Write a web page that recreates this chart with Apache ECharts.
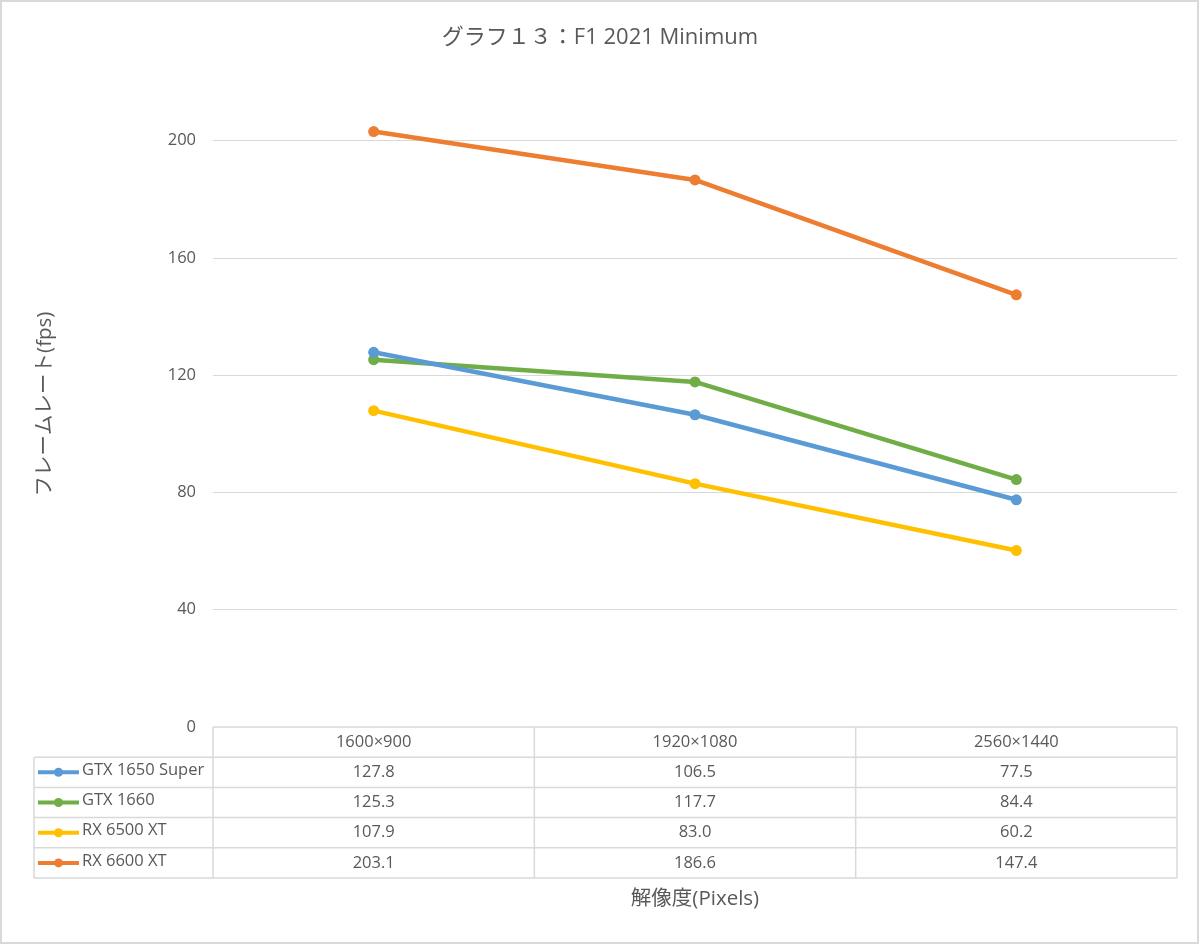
<!DOCTYPE html>
<html>
<head>
<meta charset="utf-8">
<script src="https://cdn.jsdelivr.net/npm/echarts@6/dist/echarts.min.js"></script>
<style>
  html, body { margin: 0; padding: 0; background: #fff; }
  #main { width: 1200px; height: 945px; }
</style>
</head>
<body>
<div id="main"></div>
<script>
const categories = ['1600×900', '1920×1080', '2560×1440']
const seriesNames = ['GTX 1650 Super', 'GTX 1660', 'RX 6500 XT', 'RX 6600 XT']
const gtx1650Super = [127.8, 106.5, 77.5]
const gtx1660 = [125.3, 117.7, 84.4]
const rx6500xt = [107.9, 83.0, 60.2]
const rx6600xt = [203.1, 186.6, 147.4]
const yTicks = [0, 40, 80, 120, 160, 200]

const colors = ['#5B9BD5', '#70AD47', '#FFC000', '#ED7D31']
const seriesData = [gtx1650Super, gtx1660, rx6500xt, rx6600xt]
const font = '"Open Sans", "Noto Sans CJK JP", sans-serif'
const textColor = '#595959'
const lineColor = '#d9d9d9'

// layout of plot + data table
const gridLeft = 213, gridRight = 1177, gridTop = 82, gridBottom = 727
const rowH = 30.2
const tableLeft = 34

const chart = echarts.init(document.getElementById('main'))

const option = {
    backgroundColor: '#fff',
    animation: false,
    title: {
        text: 'グラフ１３：F1 2021 Minimum',
        left: 'center',
        top: 22,
        textStyle: { fontFamily: font, fontSize: 22, fontWeight: 'normal', color: textColor }
    },
    grid: { left: gridLeft, right: 1200 - gridRight, top: gridTop, bottom: 945 - gridBottom },
    xAxis: {
        type: 'category',
        data: categories,
        boundaryGap: true,
        axisLine: { show: false },
        axisTick: { show: false },
        axisLabel: { show: false }
    },
    yAxis: {
        type: 'value',
        min: 0,
        max: 220,
        interval: 40,
        axisLine: { show: false },
        axisTick: { show: false },
        axisLabel: {
            fontFamily: font, fontSize: 16.5, color: textColor, margin: 17,
            formatter: v => yTicks.includes(v) ? String(v) : ''
        },
        splitLine: { show: true, showMinLine: false, showMaxLine: false, lineStyle: { color: lineColor, width: 1 } }
    },
    series: seriesNames.map((name, i) => ({
        name: name,
        type: 'line',
        data: seriesData[i],
        symbol: 'circle',
        symbolSize: 11,
        lineStyle: { color: colors[i], width: 4.5 },
        itemStyle: { color: colors[i] },
        z: 2 + (i === 0 ? 1 : 0)
    }))
}
chart.setOption(option)

// data table built from the arrays, columns aligned to the category axis
const colW = (gridRight - gridLeft) / categories.length
const graphics = []
const hline = (x1, x2, y) => graphics.push({
    type: 'line', shape: { x1: x1, y1: y, x2: x2, y2: y },
    style: { stroke: lineColor, lineWidth: 1.5 }, silent: true
})
const vline = (x, y1, y2) => graphics.push({
    type: 'line', shape: { x1: x, y1: y1, x2: x, y2: y2 },
    style: { stroke: lineColor, lineWidth: 1.5 }, silent: true
})
const tableBottom = gridBottom + rowH * (seriesNames.length + 1)
hline(gridLeft, gridRight, gridBottom)
for (let r = 1; r <= seriesNames.length + 1; r++) hline(tableLeft, gridRight, gridBottom + rowH * r)
vline(tableLeft, gridBottom + rowH, tableBottom)
for (let c = 0; c <= categories.length; c++) vline(gridLeft + colW * c, gridBottom, tableBottom)

const cellFont = '16.5px ' + font
categories.forEach((cat, c) => {
    const cx = chart.convertToPixel({ xAxisIndex: 0 }, c)
    graphics.push({
        type: 'text', x: cx, y: gridBottom + rowH / 2,
        style: { text: cat, fill: textColor, font: cellFont, align: 'center', verticalAlign: 'middle' }
    })
    seriesData.forEach((vals, r) => {
        graphics.push({
            type: 'text', x: cx, y: gridBottom + rowH * (r + 1.5),
            style: { text: vals[c].toFixed(1), fill: textColor, font: cellFont, align: 'center', verticalAlign: 'middle' }
        })
    })
})
seriesNames.forEach((name, r) => {
    const cy = gridBottom + rowH * (r + 1.5)
    graphics.push({
        type: 'line', shape: { x1: 38, y1: cy, x2: 79, y2: cy },
        style: { stroke: colors[r], lineWidth: 4 }
    })
    graphics.push({ type: 'circle', shape: { cx: 58.5, cy: cy, r: 4.5 }, style: { fill: colors[r] } })
    graphics.push({
        type: 'text', x: 82, y: cy - 2,
        style: { text: name, fill: textColor, font: cellFont, align: 'left', verticalAlign: 'middle' }
    })
})

// axis titles
graphics.push({
    type: 'text', x: 45, y: 404, rotation: Math.PI / 2,
    style: { text: 'フレームレート(fps)', fill: textColor, font: '20.5px ' + font, align: 'center', verticalAlign: 'middle' }
})
graphics.push({
    type: 'text', x: (gridLeft + gridRight) / 2, y: 899,
    style: { text: '解像度(Pixels)', fill: textColor, font: '20.5px ' + font, align: 'center', verticalAlign: 'middle' }
})
// outer chart border
graphics.push({
    type: 'rect', shape: { x: 1, y: 1, width: 1197, height: 942 },
    style: { fill: 'none', stroke: '#d9d9d9', lineWidth: 2 }, silent: true, z: -1
})

chart.setOption({ graphic: graphics })
</script>
</body>
</html>
